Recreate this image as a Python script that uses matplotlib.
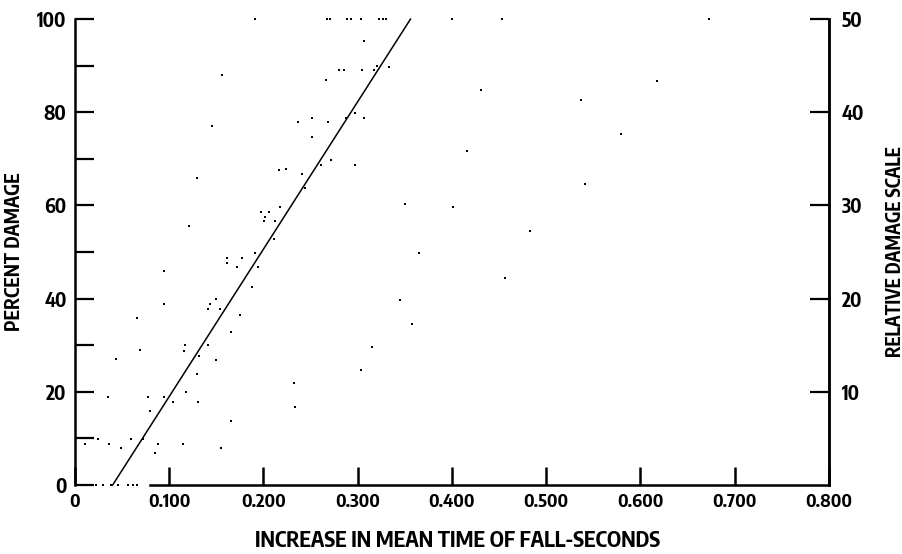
import matplotlib
matplotlib.use("Agg")
import matplotlib.pyplot as plt
from matplotlib.ticker import MultipleLocator

# increase in mean time of fall (s) vs percent damage
pts_x = [0.191, 0.267, 0.271, 0.289, 0.293, 0.303, 0.323, 0.327, 0.330, 0.400, 0.453, 0.673,
         0.307, 0.156, 0.266, 0.280, 0.285, 0.305, 0.317, 0.321, 0.333,
         0.145, 0.237, 0.251, 0.269, 0.252, 0.297, 0.307, 0.288,
         0.261, 0.272, 0.297, 0.217, 0.224, 0.241, 0.244, 0.130,
         0.121, 0.197, 0.206, 0.202, 0.201, 0.212, 0.218, 0.211, 0.350, 0.365,
         0.161, 0.177, 0.161, 0.172, 0.191, 0.194, 0.095,
         0.188, 0.095, 0.143, 0.141, 0.154, 0.150, 0.175, 0.066, 0.166,
         0.069, 0.117, 0.116, 0.141, 0.132, 0.150, 0.044, 0.129,
         0.035, 0.078, 0.095, 0.104, 0.118, 0.131, 0.080,
         0.166, 0.155, 0.115,
         0.011, 0.024, 0.036, 0.049, 0.059, 0.072, 0.088, 0.085,
         0.345, 0.358, 0.315, 0.304, 0.232, 0.234,
         0.431, 0.537, 0.579, 0.416, 0.541, 0.401, 0.483, 0.456, 0.618,
         0.003, 0.012, 0.018, 0.022, 0.030, 0.038, 0.046, 0.056, 0.062, 0.066]
pts_y = [100, 100, 100, 100, 100, 100, 100, 100, 100, 100, 100, 100,
         95.3, 88.0, 86.9, 89.0, 89.0, 89.0, 89.0, 90.0, 89.8,
         77.0, 78.0, 78.8, 77.9, 74.7, 79.8, 78.8, 78.8,
         68.7, 69.7, 68.7, 67.6, 67.8, 66.8, 63.7, 65.9,
         55.7, 58.7, 58.7, 57.6, 56.7, 56.7, 59.7, 52.7, 60.4, 49.7,
         48.8, 48.8, 47.7, 46.7, 49.7, 46.7, 45.9,
         42.6, 38.8, 38.9, 37.8, 37.8, 40.0, 36.6, 35.8, 32.8,
         28.9, 30.0, 28.8, 30.0, 27.8, 26.8, 27.0, 23.9,
         18.9, 18.9, 18.9, 17.9, 20.0, 17.9, 15.9,
         13.8, 7.9, 8.9,
         8.9, 9.9, 8.9, 7.9, 9.9, 9.9, 8.9, 6.9,
         39.7, 34.6, 29.7, 24.7, 21.9, 16.8,
         84.8, 82.6, 75.4, 71.7, 64.6, 59.7, 54.6, 44.5, 86.7,
         0, 0, 0, 0, 0, 0, 0, 0, 0, 0]

# fitted line
fit_x = [0.040, 0.356]
fit_y = [0, 100]

x_ticks = [0, 0.1, 0.2, 0.3, 0.4, 0.5, 0.6, 0.7, 0.8]
x_labels = ["0", "0.100", "0.200", "0.300", "0.400", "0.500", "0.600", "0.700", "0.800"]
left_ticks = [0, 20, 40, 60, 80, 100]
right_ticks = [10, 20, 30, 40, 50]

plt.rcParams["font.family"] = ["Encode Sans Condensed", "DejaVu Sans"]
plt.rcParams["font.weight"] = "bold"
plt.rcParams["axes.labelweight"] = "bold"

fig = plt.figure(figsize=(9.03, 5.54), dpi=100)
ax = fig.add_axes([0.083, 0.1245, 0.835, 0.841])

ax.scatter(pts_x, pts_y, s=3, marker="s", color="black", linewidths=0, clip_on=False)
ax.plot(fit_x, fit_y, color="black", lw=1.1, clip_on=False)

ax.set_xlim(0, 0.8)
ax.set_ylim(0, 100)
ax.set_xticks(x_ticks)
ax.set_xticklabels(x_labels)
ax.set_yticks(left_ticks)
ax.yaxis.set_minor_locator(MultipleLocator(10))

ax.spines["top"].set_visible(False)
ax.spines["bottom"].set_bounds(0.08, 0.8)
for s in ["left", "bottom", "right"]:
    ax.spines[s].set_linewidth(1.8)

ax.tick_params(axis="x", direction="in", length=13, width=1.8, pad=6, labelsize=13)
ax.tick_params(axis="y", which="both", direction="in", length=14, width=1.6, pad=6, labelsize=14)

ax.set_xlabel("INCREASE IN MEAN TIME OF FALL-SECONDS", fontsize=15.5)
ax.xaxis.label.set_va("baseline")
ax.xaxis.set_label_coords(0.508, -0.134)
ax.set_ylabel("PERCENT DAMAGE", fontsize=14)
ax.yaxis.set_label_coords(-0.068, 0.5)

ax2 = ax.twinx()
ax2.set_ylim(0, 50)
ax2.set_yticks(right_ticks)
for s in ["top", "left", "bottom"]:
    ax2.spines[s].set_visible(False)
ax2.spines["right"].set_linewidth(1.8)
ax2.tick_params(axis="y", direction="in", length=14, width=1.6, pad=9, labelsize=14)
ax2.set_ylabel("RELATIVE DAMAGE SCALE", fontsize=13.5)
ax2.yaxis.set_label_coords(1.074, 0.5)

fig.savefig("out.png", dpi=100)
